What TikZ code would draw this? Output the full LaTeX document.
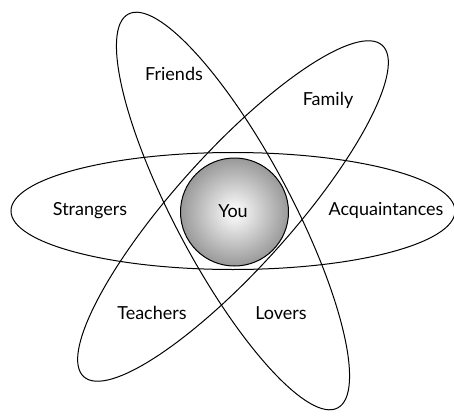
\documentclass[tikz,border=0pt]{standalone}
\usepackage{fontspec}
\setmainfont{Lato}
\begin{document}
\begin{tikzpicture}[x=1pt,y=-1pt,
  orbit/.style={draw=black,line width=1pt},
  lbl/.style={font=\fontsize{18}{20}\selectfont,inner sep=0pt,anchor=center}]
\useasboundingbox (0,0) rectangle (454,417);
\coordinate (c) at (233,211);
\draw[orbit] (c) ellipse [x radius=222, y radius=58.5];
\draw[orbit, rotate around={48:(c)}] (c) ellipse [x radius=223, y radius=58];
\draw[orbit, rotate around={118:(c)}] (c) ellipse [x radius=223, y radius=58];
\node[circle, draw=black, line width=1pt, minimum size=108pt, inner sep=0pt,
  inner color=white, outer color=gray!80] (you) at (234.5,212) {};
\node[lbl] (youlbl) at (233,211) {You};
\node[lbl] (friends) at (174,74) {Friends};
\node[lbl] (family) at (328,100) {Family};
\node[lbl] (strangers) at (90,211) {Strangers};
\node[lbl] (acq) at (386,210) {Acquaintances};
\node[lbl] (teachers) at (152,313) {Teachers};
\node[lbl] (lovers) at (281,313) {Lovers};
\end{tikzpicture}
\end{document}
